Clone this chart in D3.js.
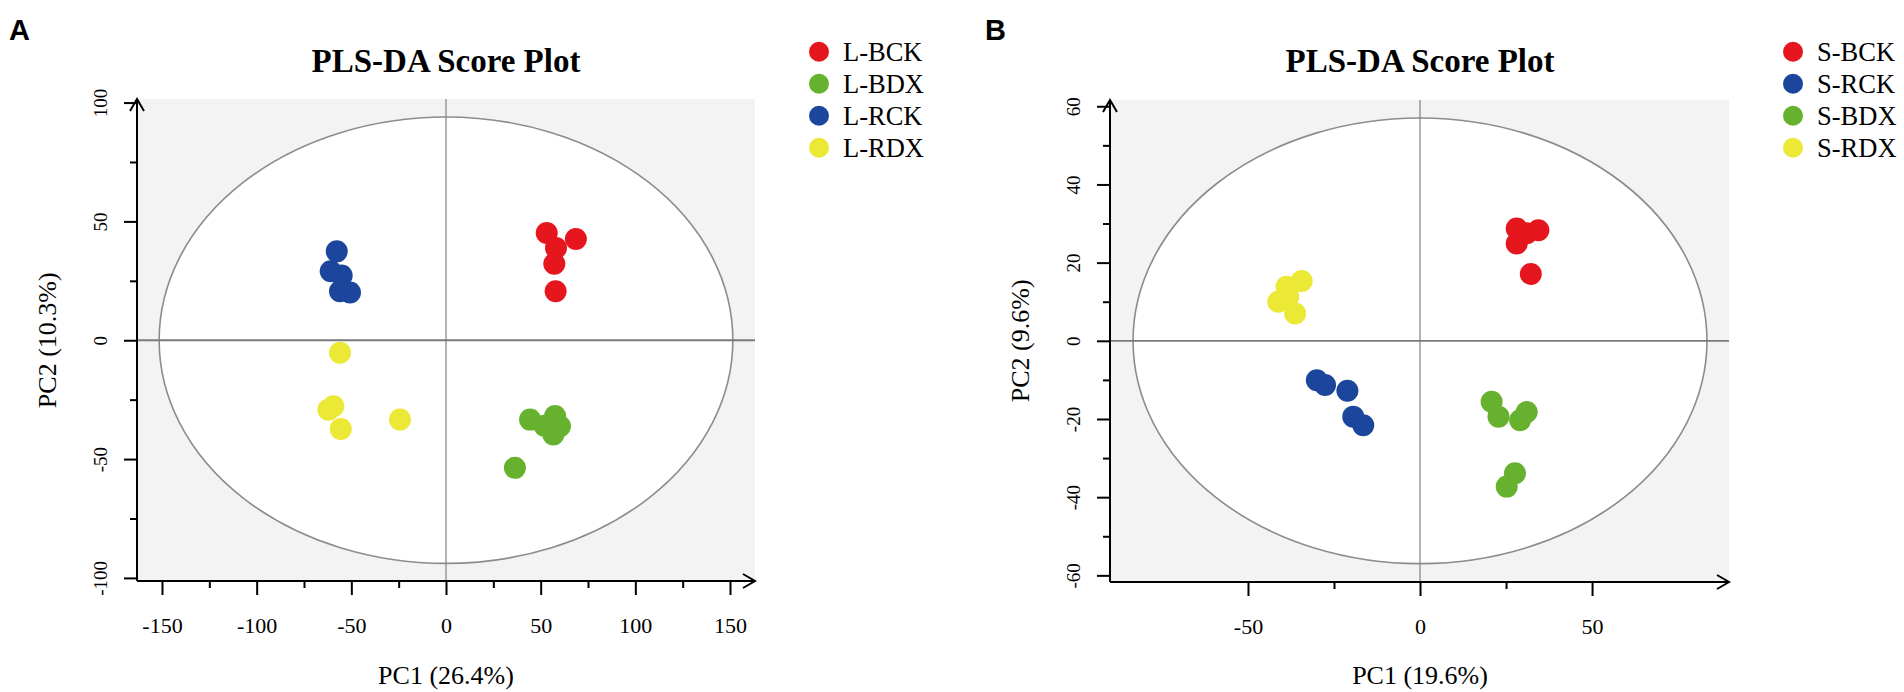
<!DOCTYPE html>
<html>
<head>
<meta charset="utf-8">
<script src="https://cdn.jsdelivr.net/npm/d3@7/dist/d3.min.js"></script>
<style>
  html, body { margin: 0; padding: 0; background: #ffffff; }
  svg { display: block; }
</style>
</head>
<body>
<svg id="chart" width="1904" height="692"></svg>
<script>
// ---------------- DATA ----------------
// Panel A (leaf)
const groupsA = ["L-BCK", "L-BDX", "L-RCK", "L-RDX"];
const colorsA = ["#e5161d", "#66b22e", "#1b469c", "#ece836"];
const aBCK = [[53.2, 45.1], [68.6, 42.6], [58.1, 38.8], [57.2, 32.2], [57.9, 20.6]];
const aBDX = [[44.4, -33.4], [52.0, -36.0], [57.6, -31.9], [60.2, -36.2], [56.7, -39.7], [36.4, -53.7]];
const aRCK = [[-57.7, 37.4], [-60.9, 29.0], [-55.1, 27.2], [-56.0, 20.6], [-50.7, 20.1]];
const aRDX = [[-56.0, -5.3], [-62.1, -29.2], [-59.5, -27.8], [-55.6, -37.3], [-24.3, -33.4]];
const xTicksA = [-150, -100, -50, 0, 50, 100, 150];
const xMinorA = [-125, -75, -25, 25, 75, 125];
const yTicksA = [-100, -50, 0, 50, 100];
const yMinorA = [-75, -25, 25, 75];
const ellipseA = [151.5, 93.9];
const xLabelA = "PC1 (26.4%)";
const yLabelA = "PC2 (10.3%)";

// Panel B (stem)
const groupsB = ["S-BCK", "S-RCK", "S-BDX", "S-RDX"];
const colorsB = ["#e5161d", "#1b469c", "#66b22e", "#ece836"];
const bBCK = [[28.1, 28.7], [31.0, 27.5], [34.4, 28.3], [28.1, 24.9], [32.2, 17.1]];
const bRCK = [[-30.0, -10.1], [-27.6, -11.3], [-21.1, -12.8], [-19.4, -19.4], [-16.5, -21.6]];
const bBDX = [[20.8, -15.6], [22.8, -19.4], [31.0, -18.2], [29.1, -20.3], [27.6, -33.9], [25.2, -37.3]];
const bRDX = [[-34.4, 15.3], [-38.8, 13.8], [-38.3, 11.3], [-41.2, 10.0], [-36.3, 7.0]];
const xTicksB = [-50, 0, 50];
const xMinorB = [-25, 25];
const yTicksB = [-60, -40, -20, 0, 20, 40, 60];
const yMinorB = [-50, -30, -10, 10, 30, 50];
const ellipseB = [83.4, 57.0];
const xLabelB = "PC1 (19.6%)";
const yLabelB = "PC2 (9.6%)";

const titleText = "PLS-DA Score Plot";

// ---------------- DRAW ----------------
const svg = d3.select("#chart");
const SERIF = "'Liberation Serif', 'Times New Roman', serif";

function panel(cfg) {
  const x = d3.scaleLinear().domain(cfg.xDomain).range([cfg.left, cfg.right]);
  const y = d3.scaleLinear().domain(cfg.yDomain).range([cfg.bottom, cfg.top]);
  const g = svg.append("g");

  // panel letter
  g.append("text").attr("x", cfg.letterX).attr("y", 40)
    .attr("font-family", "'Liberation Sans', Arial, sans-serif")
    .attr("font-weight", "bold").attr("font-size", 29).text(cfg.letter);

  // title
  g.append("text").attr("x", x(0)).attr("y", 72).attr("text-anchor", "middle")
    .attr("font-family", SERIF).attr("font-weight", "bold").attr("font-size", 33)
    .text(titleText);

  // background
  g.append("rect").attr("x", cfg.left).attr("y", cfg.top)
    .attr("width", cfg.right - cfg.left).attr("height", cfg.bottom - cfg.top)
    .attr("fill", "#f3f3f3");

  // confidence ellipse
  g.append("ellipse").attr("cx", x(0)).attr("cy", y(0))
    .attr("rx", x(cfg.ellipse[0]) - x(0)).attr("ry", y(0) - y(cfg.ellipse[1]))
    .attr("fill", "#ffffff").attr("stroke", "#8c8c8c").attr("stroke-width", 1.6);

  // zero lines
  g.append("line").attr("x1", x(0)).attr("x2", x(0)).attr("y1", cfg.top).attr("y2", cfg.bottom)
    .attr("stroke", "#8a8a8a").attr("stroke-width", 1.3);
  g.append("line").attr("x1", cfg.left).attr("x2", cfg.right).attr("y1", y(0)).attr("y2", y(0))
    .attr("stroke", "#7a7a7a").attr("stroke-width", 1.8);

  // points
  cfg.series.forEach((s, i) => {
    g.append("g").selectAll("circle").data(s).join("circle")
      .attr("cx", d => x(d[0])).attr("cy", d => y(d[1])).attr("r", 11)
      .attr("fill", cfg.colors[i]);
  });

  // x axis
  const xAxisMajor = d3.axisBottom(x).tickValues(cfg.xTicks).tickSize(14).tickSizeOuter(0)
    .tickFormat(d => d === 0 ? "0" : String(d));
  const xa = g.append("g").attr("transform", `translate(0,${cfg.bottom})`).call(xAxisMajor);
  xa.select(".domain").remove();
  xa.selectAll(".tick line").attr("stroke", "#000").attr("stroke-width", 2);
  xa.selectAll(".tick text").attr("y", 52).attr("dy", 0)
    .attr("font-family", SERIF).attr("font-size", 22).attr("fill", "#000");
  const xAxisMinor = d3.axisBottom(x).tickValues(cfg.xMinor).tickSize(7).tickFormat("");
  const xm = g.append("g").attr("transform", `translate(0,${cfg.bottom})`).call(xAxisMinor);
  xm.select(".domain").remove();
  xm.selectAll(".tick line").attr("stroke", "#000").attr("stroke-width", 2);

  // y axis
  const yAxisMajor = d3.axisLeft(y).tickValues(cfg.yTicks).tickSize(13).tickSizeOuter(0)
    .tickFormat(d => String(d));
  const ya = g.append("g").attr("transform", `translate(${cfg.left},0)`).call(yAxisMajor);
  ya.select(".domain").remove();
  ya.selectAll(".tick line").attr("stroke", "#000").attr("stroke-width", 2);
  ya.selectAll(".tick text")
    .attr("x", 0).attr("y", -30).attr("dy", 0)
    .attr("transform", "rotate(-90)")
    .attr("text-anchor", "middle")
    .attr("font-family", SERIF).attr("font-size", 19).attr("fill", "#000");
  const yAxisMinor = d3.axisLeft(y).tickValues(cfg.yMinor).tickSize(7).tickFormat("");
  const ym = g.append("g").attr("transform", `translate(${cfg.left},0)`).call(yAxisMinor);
  ym.select(".domain").remove();
  ym.selectAll(".tick line").attr("stroke", "#000").attr("stroke-width", 2);

  // axis lines with arrows
  g.append("path")
    .attr("d", `M${cfg.left},${cfg.bottom}H${cfg.right}`)
    .attr("stroke", "#000").attr("stroke-width", 2).attr("fill", "none");
  g.append("path")
    .attr("d", `M${cfg.right - 12},${cfg.bottom - 7}L${cfg.right},${cfg.bottom}L${cfg.right - 12},${cfg.bottom + 7}`)
    .attr("stroke", "#000").attr("stroke-width", 2).attr("fill", "none");
  g.append("path")
    .attr("d", `M${cfg.left},${cfg.bottom}V${cfg.top}`)
    .attr("stroke", "#000").attr("stroke-width", 2).attr("fill", "none");
  g.append("path")
    .attr("d", `M${cfg.left - 7},${cfg.top + 12}L${cfg.left},${cfg.top}L${cfg.left + 7},${cfg.top + 12}`)
    .attr("stroke", "#000").attr("stroke-width", 2).attr("fill", "none");

  // axis titles
  g.append("text").attr("x", x(0)).attr("y", 684).attr("text-anchor", "middle")
    .attr("font-family", SERIF).attr("font-size", 26).text(cfg.xLabel);
  g.append("text")
    .attr("transform", `translate(${cfg.left - 81},${y(0)}) rotate(-90)`)
    .attr("text-anchor", "middle")
    .attr("font-family", SERIF).attr("font-size", 26).text(cfg.yLabel);

  // legend
  const lg = g.append("g").attr("transform", `translate(${cfg.legendX},0)`);
  const ly = d3.scalePoint().domain(cfg.groups).range([51.7, 147.7]);
  cfg.groups.forEach((name, i) => {
    lg.append("circle").attr("cx", 0).attr("cy", ly(name)).attr("r", 10).attr("fill", cfg.colors[i]);
    lg.append("text").attr("x", 24).attr("y", ly(name) + 9.5)
      .attr("font-family", SERIF).attr("font-size", 26.5).text(name);
  });
}

panel({
  letter: "A", letterX: 9,
  left: 137, right: 755, top: 99, bottom: 581,
  xDomain: [-163.2, 163.2], yDomain: [-101.3, 101.5],
  xTicks: xTicksA, xMinor: xMinorA, yTicks: yTicksA, yMinor: yMinorA,
  ellipse: ellipseA, series: [aBCK, aBDX, aRCK, aRDX],
  groups: groupsA, colors: colorsA, legendX: 819,
  xLabel: xLabelA, yLabel: yLabelA
});

panel({
  letter: "B", letterX: 985,
  left: 1110, right: 1729, top: 100, bottom: 582,
  xDomain: [-90.1, 89.8], yDomain: [-61.7, 61.6],
  xTicks: xTicksB, xMinor: xMinorB, yTicks: yTicksB, yMinor: yMinorB,
  ellipse: ellipseB, series: [bBCK, bRCK, bBDX, bRDX],
  groups: groupsB, colors: colorsB, legendX: 1793,
  xLabel: xLabelB, yLabel: yLabelB
});
</script>
</body>
</html>
